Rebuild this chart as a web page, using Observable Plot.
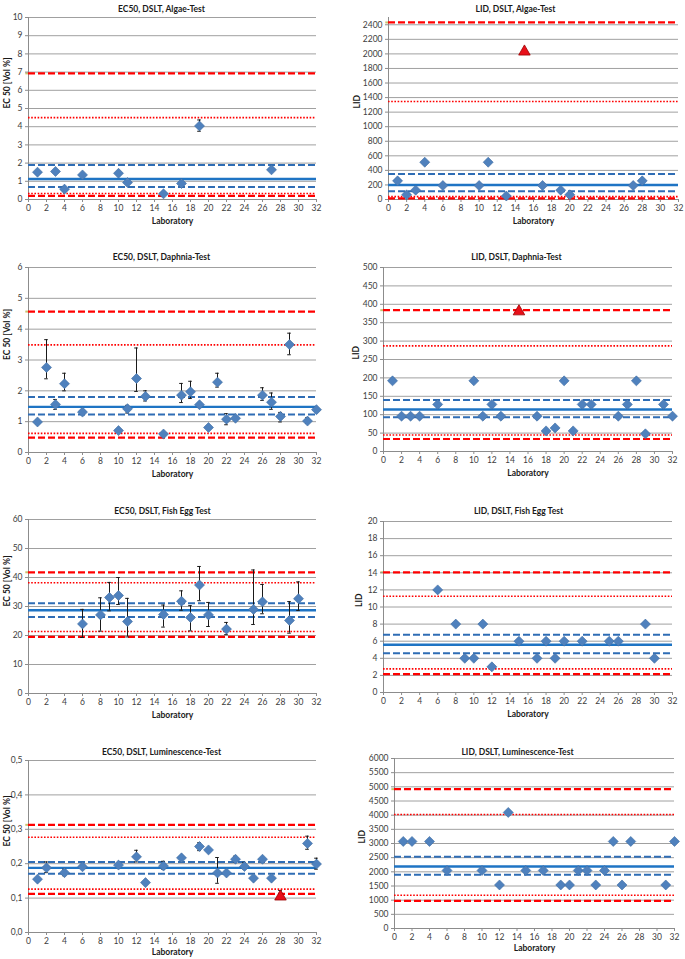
<!DOCTYPE html>
<html><head><meta charset="utf-8">
<script src="https://cdn.jsdelivr.net/npm/d3@7"></script>
<script src="https://cdn.jsdelivr.net/npm/@observablehq/plot@0.6"></script>
<style>
body{margin:0;background:#fff;}
#wrap{position:relative;width:685px;height:959px;overflow:hidden;background:#fff;}
#wrap svg{position:absolute;overflow:visible;background:transparent;}
</style></head><body><div id="wrap"></div>
<script>
// ---------- DATA ----------
// limits order: [red dashed low, red dotted low, blue dashed low, mean, blue dashed high, red dotted high, red dashed high]
const xTicks = [0,2,4,6,8,10,12,14,16,18,20,22,24,26,28,30,32];

// EC50 Algae
const ec50AlgaeLab = [1,3,4,6,10,11,15,17,19,27];
const ec50AlgaeVal = [1.50,1.54,0.57,1.35,1.44,0.93,0.31,0.88,4.04,1.63];
const ec50AlgaeLo  = [null,null,null,null,null,null,null,null,3.75,null];
const ec50AlgaeHi  = [null,null,null,null,null,null,null,null,4.37,null];
const ec50AlgaeLimits = [0.20,0.33,0.69,1.13,1.90,4.50,6.93];
const ec50AlgaeTicks = [0,1,2,3,4,5,6,7,8,9,10];

// LID Algae
const lidAlgaeLab = [1,2,3,4,6,10,11,13,17,19,20,27,28];
const lidAlgaeVal = [256,64,128,512,192,192,512,48,192,128,64,192,256];
const lidAlgaeOutLab = [15];
const lidAlgaeOutVal = [2048];
const lidAlgaeLimits = [15,40,114,200,351,1346,2432];
const lidAlgaeTicks = [0,200,400,600,800,1000,1200,1400,1600,1800,2000,2200,2400];

// EC50 Daphnia
const ec50DaphLab = [1,2,3,4,6,10,11,12,13,15,17,18,19,20,21,22,23,26,27,28,29,31,32];
const ec50DaphVal = [0.99,2.76,1.56,2.23,1.31,0.71,1.42,2.40,1.82,0.60,1.86,1.97,1.55,0.81,2.28,1.08,1.11,1.86,1.63,1.17,3.50,1.02,1.39];
const ec50DaphLo  = [0.93,2.39,1.40,2.00,null,null,1.28,1.98,1.67,null,1.62,1.75,null,null,2.12,0.90,null,1.69,1.40,0.99,3.17,0.94,null];
const ec50DaphHi  = [1.05,3.66,1.72,2.57,null,null,1.53,3.39,2.00,null,2.24,2.31,null,null,2.57,1.26,null,2.10,1.93,1.30,3.87,1.13,null];
const ec50DaphLimits = [0.48,0.62,1.23,1.48,1.80,3.49,4.57];
const ec50DaphTicks = [0,1,2,3,4,5,6];

// LID Daphnia
const lidDaphLab = [1,2,3,4,6,10,11,12,13,17,18,19,20,21,22,23,26,27,28,29,31,32];
const lidDaphVal = [192,96,96,96,128,192,96,128,96,96,56,64,192,56,128,128,96,128,192,48,128,96];
const lidDaphOutLab = [15];
const lidDaphOutVal = [384];
const lidDaphLimits = [34,45,93,114,140,287,384];
const lidDaphTicks = [0,50,100,150,200,250,300,350,400,450,500];

// EC50 Fish Egg
const ec50FishLab = [6,8,9,10,11,15,17,18,19,20,22,25,26,29,30];
const ec50FishVal = [24.0,27.1,33.1,33.8,24.8,27.2,31.8,26.2,37.4,27.1,22.2,29.0,31.6,25.2,32.7];
const ec50FishLo  = [19.3,21.5,28.5,30.7,19.5,22.9,28.7,21.6,32.0,23.1,20.3,23.8,27.5,20.8,28.6];
const ec50FishHi  = [29.0,33.0,38.3,40.0,32.8,30.5,35.4,30.3,43.8,31.4,24.5,42.6,37.6,31.7,38.5];
const ec50FishLimits = [19.5,21.4,26.4,28.7,31.1,38.2,41.8];
const ec50FishTicks = [0,10,20,30,40,50,60];

// LID Fish Egg
const lidFishLab = [6,8,9,10,11,12,15,17,18,19,20,22,25,26,29,30];
const lidFishVal = [12,8,4,4,8,3,6,4,6,4,6,6,6,6,8,4];
const lidFishLimits = [2.14,2.76,4.58,5.59,6.76,11.26,14.06];
const lidFishTicks = [0,2,4,6,8,10,12,14,16,18,20];

// EC50 Luminescence
const ec50LumLab = [1,2,4,6,10,12,13,15,17,19,20,21,22,23,24,25,26,27,31,32];
const ec50LumVal = [0.155,0.188,0.174,0.191,0.196,0.220,0.145,0.193,0.217,0.250,0.240,0.173,0.173,0.213,0.192,0.158,0.213,0.158,0.259,0.199];
const ec50LumLo  = [null,0.174,0.165,null,null,0.205,null,0.184,null,0.238,null,0.143,null,0.205,0.185,null,0.208,null,0.242,0.184];
const ec50LumHi  = [null,0.205,0.184,null,null,0.239,null,0.207,null,0.261,null,0.218,null,0.222,0.204,null,0.218,null,0.280,0.216];
const ec50LumOutLab = [28];
const ec50LumOutVal = [0.108];
const ec50LumOutLo  = [0.100];
const ec50LumOutHi  = [0.122];
const ec50LumLimits = [0.112,0.126,0.171,0.188,0.205,0.277,0.313];
const ec50LumTicks = [0,0.1,0.2,0.3,0.4,0.5];

// LID Luminescence
const lidLumLab = [1,2,4,6,10,12,13,15,17,19,20,21,22,23,24,25,26,27,31,32];
const lidLumVal = [3072,3072,3072,2048,2048,1536,4096,2048,2048,1536,1536,2048,2048,1536,2048,3072,1536,3072,1536,3072];
const lidLumLimits = [976,1176,1894,2188,2529,4024,4918];
const lidLumTicks = [0,500,1000,1500,2000,2500,3000,3500,4000,4500,5000,5500,6000];

// ---------- DRAWING ----------
const FONT = "Lato, 'Open Sans', 'Liberation Sans', sans-serif";
const diamond = {draw(ctx, size){ const r = Math.sqrt(size/2); ctx.moveTo(0,-r); ctx.lineTo(r,0); ctx.lineTo(0,r); ctx.lineTo(-r,0); ctx.closePath(); }};
const triangle = {draw(ctx, size){ const r = Math.sqrt(size/2.2); ctx.moveTo(0,-r); ctx.lineTo(r*1.05,r*0.85); ctx.lineTo(-r*1.05,r*0.85); ctx.closePath(); }};

function rows(lab, val, lo, hi){
  return lab.map((x,i)=>({x, y: val[i], lo: lo ? lo[i] : null, hi: hi ? hi[i] : null}));
}

function panel(c){
  const mt = 17, mb = 30, mr = c.mr ?? 12;
  const ml = c.L - c.SL;
  const width = ml + (c.R - c.L) + mr;
  const height = mt + (c.B - c.T) + mb;
  const pts = rows(c.lab, c.val, c.lo, c.hi);
  const out = c.outLab ? rows(c.outLab, c.outVal, c.outLo, c.outHi) : [];
  const errs = pts.concat(out).filter(d => d.lo != null);
  const [rdL, rtL, bdL, mean, bdH, rtH, rdH] = c.limits;
  const plotC = (c.L + c.R)/2;
  const capW = 0.2;
  const svg = Plot.plot({
    width, height, marginLeft: ml, marginRight: mr, marginTop: mt, marginBottom: mb,
    style: {fontFamily: FONT, fontSize: "8.5px", color: "#404040", background: "transparent", overflow: "visible"},
    x: {domain: [0,32], label: null},
    y: {domain: c.domain, label: null},
    marks: [
      Plot.gridY(c.ticks, {stroke: "#a0a0a0", strokeOpacity: 1, strokeWidth: 1}),
      Plot.ruleY([rdH], {x1: -0.3, x2: 0, stroke: "#c8c070", strokeWidth: 2}),
      Plot.ruleX([0], {stroke: "#8c8c8c"}),
      Plot.ruleY([c.domain[0]], {stroke: "#8c8c8c"}),
      Plot.axisX(xTicks, {tickSize: 3, tickPadding: 2, stroke: "#8c8c8c", fill: "#404040", label: null}),
      Plot.axisY(c.ticks, {tickSize: 3, tickPadding: 3, stroke: "#8c8c8c", fill: "#404040", label: null, tickFormat: c.fmt}),
      Plot.ruleY([rdL, rdH], {stroke: "#ff0000", strokeWidth: 2.2, strokeDasharray: "7,3"}),
      Plot.ruleY([rtL, rtH], {stroke: "#ff0000", strokeWidth: 1.6, strokeDasharray: "1.6,1.6"}),
      Plot.ruleY([bdL, bdH], {stroke: "#2f6db5", strokeWidth: 2, strokeDasharray: "7,3"}),
      Plot.ruleY([mean], {stroke: "#1f74c4", strokeWidth: 2.4}),
      Plot.ruleX(errs, {x: "x", y1: "lo", y2: "hi", stroke: "#1a1a1a", strokeWidth: 1}),
      Plot.ruleY(errs, {y: "hi", x1: d => d.x - capW, x2: d => d.x + capW, stroke: "#1a1a1a", strokeWidth: 1}),
      Plot.ruleY(errs, {y: "lo", x1: d => d.x - capW, x2: d => d.x + capW, stroke: "#1a1a1a", strokeWidth: 1}),
      Plot.dot(pts, {x: "x", y: "y", symbol: diamond, r: 4, fill: "#4f81bd", stroke: "#3d6aa0", strokeWidth: 0.6}),
      Plot.dot(out, {x: "x", y: "y", symbol: triangle, r: 4.6, fill: "#e8101a", stroke: "#9c0000", strokeWidth: 0.8}),
      Plot.text([c.title], {text: d => d, frameAnchor: "top", dy: c.titleDy, dx: c.titleX - plotC, fontWeight: "bold", fontSize: 8.5, fill: "#1a1a1a"}),
      Plot.text(["Laboratory"], {text: d => d, frameAnchor: "bottom", dy: c.labDy ?? 24, fontWeight: "bold", fontSize: 8.5, fill: "#1a1a1a"}),
      Plot.text([c.ylabel], {text: d => d, frameAnchor: "left", dx: c.ylabelX - c.L, rotate: -90, fontWeight: "bold", fontSize: 8.5, fill: "#1a1a1a"})
    ]
  });
  svg.style.left = c.SL + "px";
  svg.style.top = (c.T - mt) + "px";
  document.getElementById("wrap").appendChild(svg);
}

const numFmt = d => String(d);
const commaFmt = d => d.toFixed(1).replace(".", ",");
const ecLabel = "EC 50 [Vol %]";

panel({title: "EC50, DSLT, Algae-Test", L: 28, R: 316, T: 17, B: 199, SL: 0, titleX: 161, titleDy: -12, ylabel: ecLabel, ylabelX: 7,
  domain: [0,10], ticks: ec50AlgaeTicks, fmt: numFmt, lab: ec50AlgaeLab, val: ec50AlgaeVal, lo: ec50AlgaeLo, hi: ec50AlgaeHi, limits: ec50AlgaeLimits});
panel({title: "LID, DSLT, Algae-Test", L: 388, R: 678, T: 17, B: 199, SL: 342, mr: 6, titleX: 515, titleDy: -12, ylabel: "LID", ylabelX: 357,
  domain: [0,2500], ticks: lidAlgaeTicks, fmt: numFmt, lab: lidAlgaeLab, val: lidAlgaeVal, outLab: lidAlgaeOutLab, outVal: lidAlgaeOutVal, limits: lidAlgaeLimits});
panel({title: "EC50, DSLT, Daphnia-Test", L: 28, R: 316, T: 267, B: 452, SL: 0, titleX: 161, titleDy: -14, ylabel: ecLabel, ylabelX: 7,
  domain: [0,6], ticks: ec50DaphTicks, fmt: numFmt, lab: ec50DaphLab, val: ec50DaphVal, lo: ec50DaphLo, hi: ec50DaphHi, limits: ec50DaphLimits});
panel({title: "LID, DSLT, Daphnia-Test", L: 383, R: 672, T: 267, B: 451, SL: 342, titleX: 516, titleDy: -14, ylabel: "LID", ylabelX: 356,
  domain: [0,500], ticks: lidDaphTicks, fmt: numFmt, lab: lidDaphLab, val: lidDaphVal, outLab: lidDaphOutLab, outVal: lidDaphOutVal, limits: lidDaphLimits});
panel({title: "EC50, DSLT, Fish Egg Test", L: 28, R: 316, T: 519, B: 693, SL: 0, titleX: 162, titleDy: -12, ylabel: ecLabel, ylabelX: 7,
  domain: [0,60], ticks: ec50FishTicks, fmt: numFmt, lab: ec50FishLab, val: ec50FishVal, lo: ec50FishLo, hi: ec50FishHi, limits: ec50FishLimits});
panel({title: "LID, DSLT, Fish Egg Test", L: 383, R: 672, T: 521, B: 692, SL: 342, titleX: 518, titleDy: -14, ylabel: "LID", ylabelX: 359,
  domain: [0,20], ticks: lidFishTicks, fmt: numFmt, lab: lidFishLab, val: lidFishVal, limits: lidFishLimits});
panel({title: "EC50, DSLT, Luminescence-Test", L: 28, R: 316, T: 760, B: 932, SL: 0, titleX: 161, titleDy: -12, ylabel: ecLabel, ylabelX: 7, labDy: 22,
  domain: [0,0.5], ticks: ec50LumTicks, fmt: commaFmt, lab: ec50LumLab, val: ec50LumVal, lo: ec50LumLo, hi: ec50LumHi,
  outLab: ec50LumOutLab, outVal: ec50LumOutVal, outLo: ec50LumOutLo, outHi: ec50LumOutHi, limits: ec50LumLimits});
panel({title: "LID, DSLT, Luminescence-Test", L: 394, R: 674, T: 758, B: 928, SL: 342, mr: 10, titleX: 517, titleDy: -10, ylabel: "LID", ylabelX: 362, labDy: 22,
  domain: [0,6000], ticks: lidLumTicks, fmt: numFmt, lab: lidLumLab, val: lidLumVal, limits: lidLumLimits});
</script>
</body></html>
